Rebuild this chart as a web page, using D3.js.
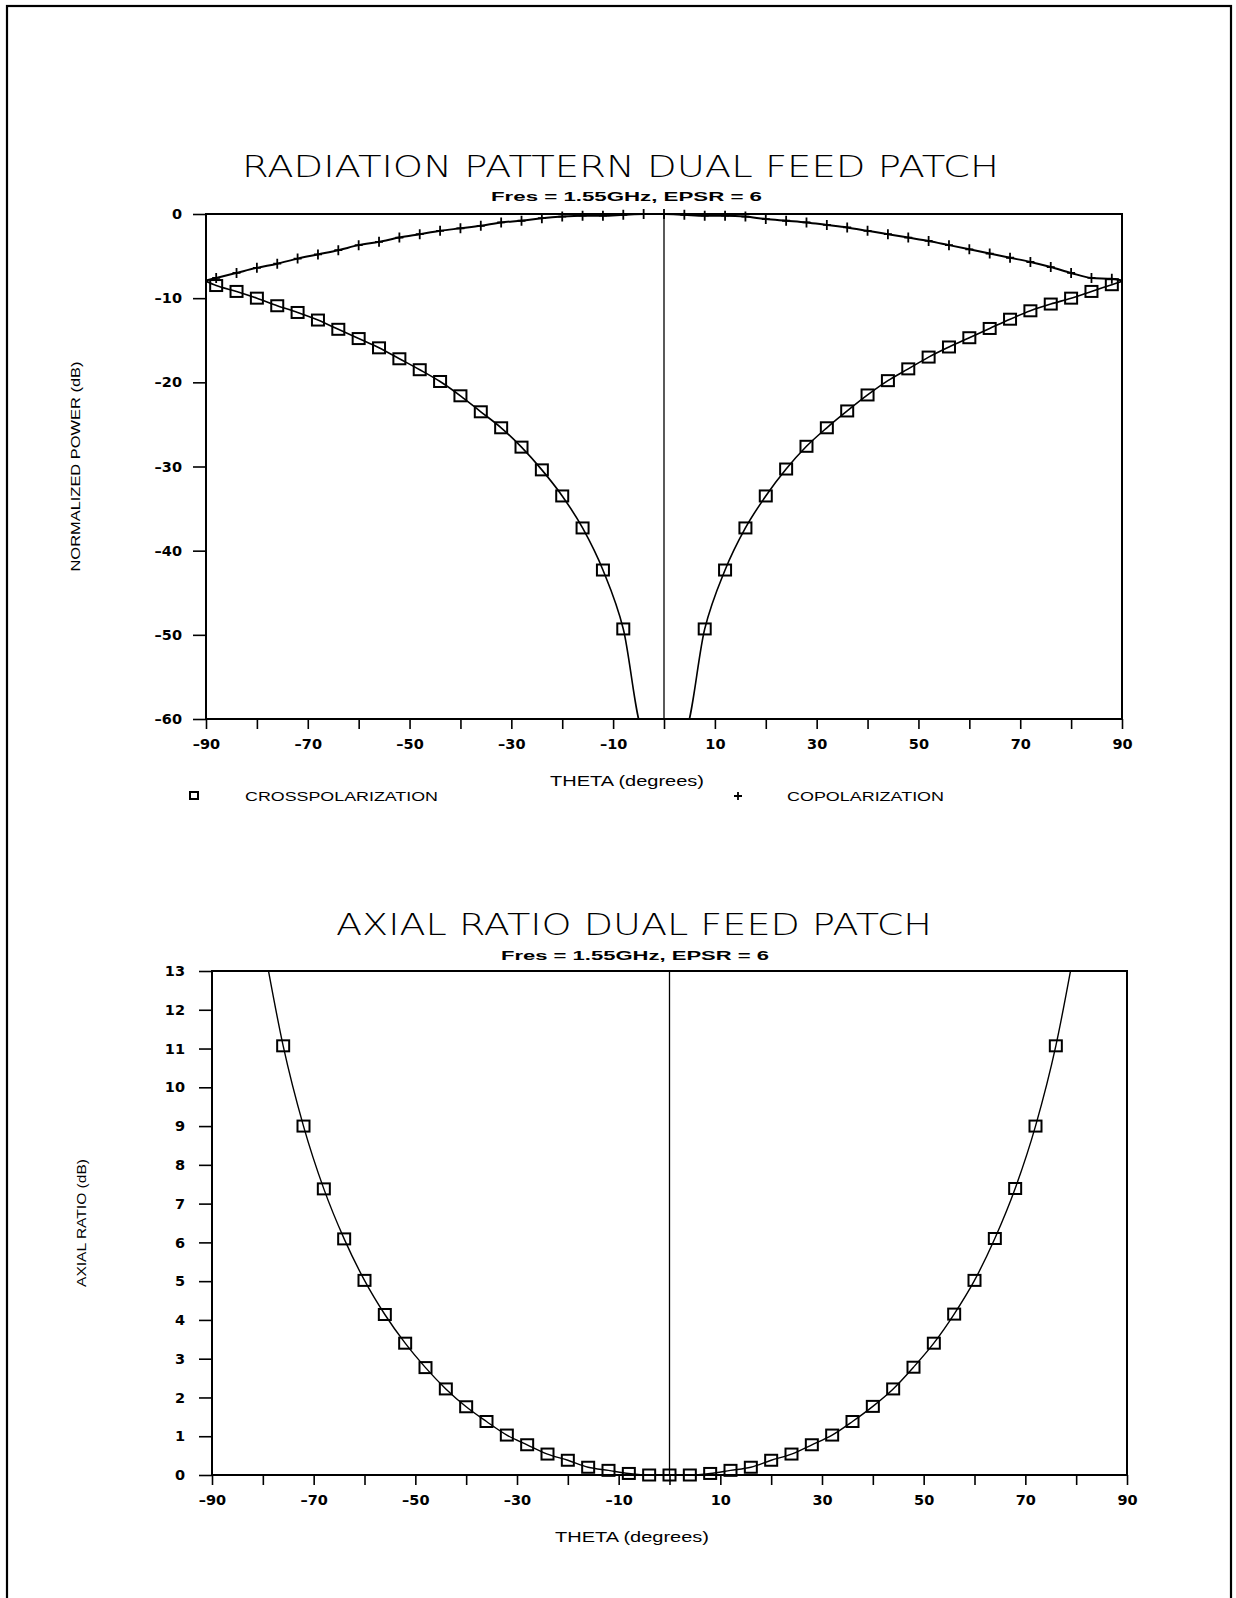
<!DOCTYPE html>
<html><head><meta charset="utf-8">
<script src="https://cdn.jsdelivr.net/npm/d3@7"></script>
<style>body{margin:0;background:#fff}</style>
</head><body>
<svg id="c" width="1236" height="1598" xmlns="http://www.w3.org/2000/svg"></svg>
<script>
// ---------------- data ----------------
const xTickValues = [-90,-80,-70,-60,-50,-40,-30,-20,-10,0,10,20,30,40,50,60,70,80,90];
const xTickLabels = [-90,-70,-50,-30,-10,10,30,50,70,90];
const rpYTicks = [0,-10,-20,-30,-40,-50,-60];
const arYTicks = [0,1,2,3,4,5,6,7,8,9,10,11,12,13];

// Radiation pattern: copolarization (+)
const copolTheta = [-90,-88,-84,-80,-76,-72,-68,-64,-60,-56,-52,-48,-44,-40,-36,-32,-28,-24,-20,-16,-12,-8,-4,0,4,8,12,16,20,24,28,32,36,40,44,48,52,56,60,64,68,72,76,80,84,88,90];
const copolDb = [-7.9,-7.6,-7.0,-6.4,-5.9,-5.3,-4.8,-4.3,-3.7,-3.3,-2.8,-2.4,-2.0,-1.7,-1.4,-1.0,-0.8,-0.5,-0.3,-0.2,-0.2,-0.1,0,0,-0.1,-0.2,-0.2,-0.3,-0.6,-0.8,-1.0,-1.3,-1.6,-2.0,-2.4,-2.8,-3.2,-3.7,-4.2,-4.7,-5.2,-5.7,-6.3,-7.0,-7.6,-7.7,-7.9];

// Radiation pattern: crosspolarization (squares)
const crossTheta = [-90,-88,-84,-80,-76,-72,-68,-64,-60,-56,-52,-48,-44,-40,-36,-32,-28,-24,-20,-16,-12,-8,-4,4,8,12,16,20,24,28,32,36,40,44,48,52,56,60,64,68,72,76,80,84,88,90];
const crossDb = [-8.0,-8.5,-9.2,-10.0,-10.9,-11.7,-12.6,-13.7,-14.8,-15.9,-17.2,-18.5,-19.9,-21.6,-23.5,-25.4,-27.7,-30.4,-33.5,-37.3,-42.3,-49.3,-61.5,-61.5,-49.3,-42.3,-37.3,-33.5,-30.3,-27.6,-25.4,-23.4,-21.5,-19.8,-18.4,-17.0,-15.8,-14.7,-13.6,-12.5,-11.5,-10.7,-10.0,-9.2,-8.4,-8.0];

// Axial ratio (squares)
const arTheta = [-80,-76,-72,-68,-64,-60,-56,-52,-48,-44,-40,-36,-32,-28,-24,-20,-16,-12,-8,-4,0,4,8,12,16,20,24,28,32,36,40,44,48,52,56,60,64,68,72,76,80];
const arDb = [13.8,11.07,9.0,7.38,6.09,5.02,4.14,3.40,2.77,2.22,1.76,1.38,1.03,0.78,0.54,0.38,0.20,0.12,0.04,0.0,0.0,0.0,0.04,0.12,0.20,0.38,0.54,0.78,1.03,1.38,1.77,2.22,2.78,3.40,4.15,5.02,6.10,7.39,9.0,11.07,13.8];

// ---------------- drawing ----------------
const svg = d3.select("#c");
const TICKFONT = "'DejaVu Sans', 'Liberation Sans', sans-serif";
const NARROW = "'Liberation Sans Narrow', 'Liberation Sans', Arial, sans-serif";

// page border
svg.append("rect").attr("x",7).attr("y",6).attr("width",1224).attr("height",1620)
  .attr("fill","none").attr("stroke","#000").attr("stroke-width",2.2);

const fmt = d => (d < 0 ? "\u2013" : "") + Math.abs(d);

function panel(opt){
  const {L,R,T,B,ydom,yticks,ytickSize,ytickPad,title,titleX,titleW,titleY,subY,subX,subW,ylabel,ylabelX,ylabelLen,xlabelX,xlabelY,id} = opt;
  const x = d3.scaleLinear().domain([-90,90]).range([L,R]);
  const y = d3.scaleLinear().domain(ydom).range([B,T]);
  const g = svg.append("g");

  svg.append("clipPath").attr("id",id).append("rect")
    .attr("x",L).attr("y",T).attr("width",R-L).attr("height",B-T);

  // titles
  g.append("text").attr("x",titleX).attr("y",titleY).text(title)
    .attr("font-family","'DejaVu Sans', sans-serif").attr("font-weight",200)
    .attr("font-size",30).attr("textLength",titleW).attr("lengthAdjust","spacingAndGlyphs");
  g.append("text").attr("x",subX).attr("y",subY).text("Fres = 1.55GHz, EPSR = 6")
    .attr("font-family",NARROW).attr("font-weight","bold")
    .attr("font-size",13).attr("textLength",subW).attr("lengthAdjust","spacingAndGlyphs");

  // x axis
  const xa = d3.axisBottom(x).tickValues(xTickValues).tickSize(10).tickPadding(10)
    .tickFormat(d => xTickLabels.includes(d) ? fmt(d) : "");
  const gx = g.append("g").attr("transform",`translate(0,${B})`).call(xa);
  gx.select(".domain").remove();
  gx.selectAll("line").attr("stroke","#000").attr("stroke-width",1.6);
  gx.selectAll("text").attr("font-family",TICKFONT).attr("font-weight","bold").attr("font-size",14.5)
    .attr("fill","#000");

  // y axis
  const ya = d3.axisLeft(y).tickValues(yticks).tickSize(ytickSize).tickPadding(ytickPad).tickFormat(fmt);
  const gy = g.append("g").attr("transform",`translate(${L},0)`).call(ya);
  gy.select(".domain").remove();
  gy.selectAll("line").attr("stroke","#000").attr("stroke-width",1.6);
  gy.selectAll("text").attr("font-family",TICKFONT).attr("font-weight","bold").attr("font-size",14.5)
    .attr("fill","#000");

  // frame
  g.append("rect").attr("x",L).attr("y",T).attr("width",R-L).attr("height",B-T)
    .attr("fill","none").attr("stroke","#000").attr("stroke-width",2);
  // zero line
  g.append("line").attr("x1",x(0)).attr("x2",x(0)).attr("y1",T).attr("y2",B)
    .attr("stroke","#000").attr("stroke-width",1.3);

  // labels
  g.append("text").attr("transform",`translate(${ylabelX},${(T+B)/2}) rotate(-90)`)
    .attr("text-anchor","middle").text(ylabel)
    .attr("font-family",NARROW).attr("font-size",12.5)
    .attr("textLength",ylabelLen).attr("lengthAdjust","spacingAndGlyphs");
  g.append("text").attr("x",xlabelX).attr("y",xlabelY).attr("text-anchor","middle")
    .text("THETA (degrees)").attr("font-family",NARROW).attr("font-size",14)
    .attr("textLength",154).attr("lengthAdjust","spacingAndGlyphs");

  return {x,y,g};
}

function drawSeries(p, thetas, vals, marker, clipId, lineW){
  const data = thetas.map((t,i)=>({t, v: vals[i]}));
  const line = d3.line().x(d=>p.x(d.t)).y(d=>p.y(d.v)).curve(d3.curveMonotoneX);
  p.g.append("path").datum(data).attr("d",line).attr("fill","none")
    .attr("stroke","#000").attr("stroke-width",lineW).attr("clip-path",`url(#${clipId})`);
  const [d0,d1] = p.y.domain();
  const lo = Math.min(d0,d1), hi = Math.max(d0,d1);
  const pts = data.filter(d => Math.abs(d.t) <= 88 && d.v >= lo && d.v <= hi);
  if(marker === "square"){
    p.g.selectAll(null).data(pts).enter().append("rect")
      .attr("x",d=>p.x(d.t)-6).attr("y",d=>p.y(d.v)-5.5).attr("width",12).attr("height",11)
      .attr("fill","none").attr("stroke","#000").attr("stroke-width",2);
  } else {
    p.g.selectAll(null).data(pts).enter().append("path")
      .attr("d",d=>`M${p.x(d.t)-4},${p.y(d.v)}h8M${p.x(d.t)},${p.y(d.v)-5}v10`)
      .attr("stroke","#000").attr("stroke-width",1.8);
  }
}

// ---- top panel: radiation pattern ----
const topP = panel({id:"clipTop", L:206, R:1122, T:214, B:719, ydom:[-60,0], yticks:rpYTicks,
  ytickSize:13, ytickPad:11,
  title:"RADIATION PATTERN DUAL FEED PATCH", titleX:242, titleW:757, titleY:177,
  subX:491, subW:271, subY:201,
  ylabel:"NORMALIZED POWER (dB)", ylabelX:80, ylabelLen:210,
  xlabelX:627, xlabelY:786});
drawSeries(topP, crossTheta, crossDb, "square", "clipTop", 1.6);
drawSeries(topP, copolTheta, copolDb, "plus", "clipTop", 2);

// legend
topP.g.append("rect").attr("x",190).attr("y",792).attr("width",8).attr("height",7)
  .attr("fill","none").attr("stroke","#000").attr("stroke-width",2);
topP.g.append("text").attr("x",245).attr("y",801).text("CROSSPOLARIZATION")
  .attr("font-family",NARROW).attr("font-size",13).attr("textLength",193).attr("lengthAdjust","spacingAndGlyphs");
topP.g.append("path").attr("d","M734,796h8M738,792v8").attr("stroke","#000").attr("stroke-width",1.8);
topP.g.append("text").attr("x",787).attr("y",801).text("COPOLARIZATION")
  .attr("font-family",NARROW).attr("font-size",13).attr("textLength",157).attr("lengthAdjust","spacingAndGlyphs");

// ---- bottom panel: axial ratio ----
const botP = panel({id:"clipBot", L:212, R:1127, T:971, B:1475, ydom:[0,13], yticks:arYTicks,
  ytickSize:13, ytickPad:14,
  title:"AXIAL RATIO DUAL FEED PATCH", titleX:336, titleW:596, titleY:935,
  subX:501, subW:268, subY:960,
  ylabel:"AXIAL RATIO (dB)", ylabelX:86, ylabelLen:128,
  xlabelX:632, xlabelY:1542});
drawSeries(botP, arTheta, arDb, "square", "clipBot", 1.4);
</script>
</body></html>
